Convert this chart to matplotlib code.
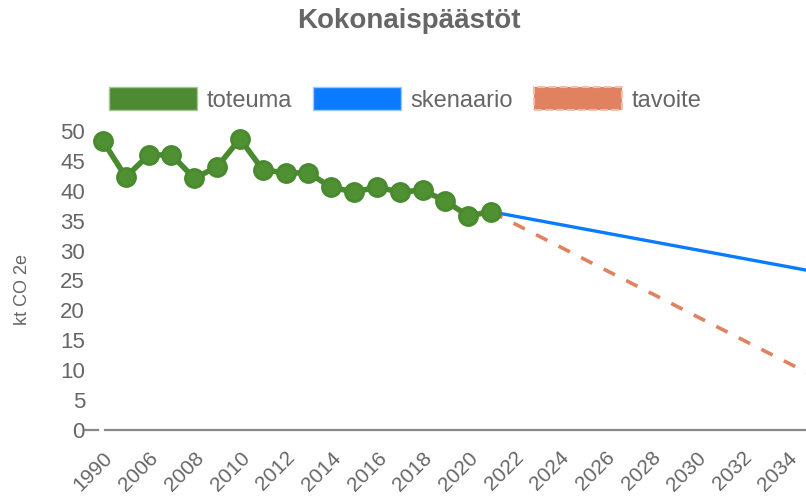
import matplotlib
matplotlib.use('Agg')
import matplotlib.pyplot as plt
from matplotlib.patches import Patch

# vuodet ja päästöt (kt CO2e)
years = ['1990'] + [str(y) for y in range(2005, 2036)]
toteuma_years = ['1990'] + [str(y) for y in range(2005, 2022)]
toteuma = [48.3, 42.3, 46.0, 46.0, 42.1, 44.0, 48.7, 43.5, 43.0, 43.0,
           40.6, 39.8, 40.6, 39.8, 40.1, 38.3, 35.8, 36.5]
skenaario_years = ['2021', '2035']
skenaario = [36.5, 26.6]
tavoite_years = ['2021', '2035']
tavoite = [36.5, 9.3]

plt.rcParams['font.family'] = ['Liberation Sans', 'DejaVu Sans']

idx = {y: i for i, y in enumerate(years)}

fig = plt.figure(figsize=(8.06, 4.97), dpi=100)
ax = fig.add_axes([103 / 806, 67 / 497, 703 / 806, 299 / 497])

ax.plot([idx[y] for y in tavoite_years], tavoite, color='#e0825f', lw=2.6,
        dashes=(3.5, 3.5), clip_on=False, zorder=2)
ax.plot([idx[y] for y in skenaario_years], skenaario, color='#0a7bff', lw=2.4,
        clip_on=False, zorder=3)
ax.plot([idx[y] for y in toteuma_years], toteuma, color='#4a8a2e', lw=4,
        marker='o', ms=13, mfc='#4f9033', mec='#4a8a2e', mew=2,
        clip_on=False, zorder=4)

ax.set_xlim(0, 30.8)
ax.set_ylim(0, 50)
ax.set_yticks(range(0, 51, 5))
ax.set_xticks(range(0, len(years), 2))
ax.set_xticklabels(years[::2], rotation=45, ha='right', rotation_mode='anchor')
ax.tick_params(axis='y', length=0, pad=13, labelsize=16, labelcolor='#666666')
ax.tick_params(axis='x', length=0, pad=13, labelsize=15, labelcolor='#666666')
for s in ['top', 'right', 'left']:
    ax.spines[s].set_visible(False)
ax.spines['bottom'].set_color('#888888')
ax.spines['bottom'].set_linewidth(1.6)
ax.spines['bottom'].set_bounds(0.08, 30.8)
# pieni viiva nollan kohdalla
ax.plot([-0.78, -0.22], [0, 0], color='#888888', lw=1.6, clip_on=False)

ax.set_ylabel('kt CO 2e', fontsize=13, color='#666666')
ax.yaxis.set_label_coords(-0.102, 0.47)

fig.text(0.507, 0.958, 'Kokonaispäästöt', ha='center', va='center',
         fontsize=20, fontweight='bold', color='#666666')

handles = [
    Patch(facecolor='#4e8a32', edgecolor='#a5c79a', lw=1, label='toteuma'),
    Patch(facecolor='#0a7bff', edgecolor='#9cc8ff', lw=1, label='skenaario'),
    Patch(facecolor='#e0825f', edgecolor='#f0c0ad', lw=1.5, ls='--', label='tavoite'),
]
leg = fig.legend(handles=handles, loc='center', bbox_to_anchor=(0.503, 0.8),
                 ncol=3, frameon=False, fontsize=17, handlelength=3.7,
                 handleheight=1.1, handletextpad=0.42, columnspacing=0.9)
for t in leg.get_texts():
    t.set_color('#666666')

fig.savefig('out.png', dpi=100)
